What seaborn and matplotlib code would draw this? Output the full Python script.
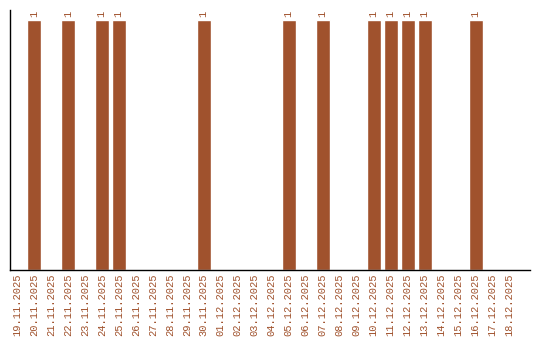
import matplotlib
matplotlib.use("Agg")
import matplotlib.pyplot as plt
import seaborn as sns
import pandas as pd

dates = ["19.11.2025", "20.11.2025", "21.11.2025", "22.11.2025", "23.11.2025",
         "24.11.2025", "25.11.2025", "26.11.2025", "27.11.2025", "28.11.2025",
         "29.11.2025", "30.11.2025", "01.12.2025", "02.12.2025", "03.12.2025",
         "04.12.2025", "05.12.2025", "06.12.2025", "07.12.2025", "08.12.2025",
         "09.12.2025", "10.12.2025", "11.12.2025", "12.12.2025", "13.12.2025",
         "14.12.2025", "15.12.2025", "16.12.2025", "17.12.2025", "18.12.2025"]
counts = [0, 1, 0, 1, 0, 1, 1, 0, 0, 0, 0, 1, 0, 0, 0,
          0, 1, 0, 1, 0, 0, 1, 1, 1, 1, 0, 0, 1, 0, 0]

color = "#A0522D"
sns.set_style("white")
plt.rcParams['font.family'] = ['Liberation Mono', 'DejaVu Sans Mono']

df = pd.DataFrame({"date": dates, "count": counts})
fig = plt.figure(figsize=(5.4, 3.4), dpi=100)
ax = fig.add_axes([10/540, 70/340, 520/540, 260/340])
sns.barplot(data=df, x="date", y="count", color=color, saturation=1, width=0.82, ax=ax)

labels = [str(c) if c else "" for c in counts]
ax.bar_label(ax.containers[0], labels=labels, rotation=90, fontsize=7.5,
             color=color, padding=2)

ax.set_xlim(-0.4, 30.2)
ax.set_ylim(0, 1.04)
ax.set_xlabel("")
ax.set_ylabel("")
ax.set_yticks([])
ax.tick_params(axis="x", length=0, pad=2.5, labelsize=7.5, labelcolor=color, rotation=90)
for s in ["top", "right"]:
    ax.spines[s].set_visible(False)
for s in ["left", "bottom"]:
    ax.spines[s].set_color("black")
    ax.spines[s].set_linewidth(1)

fig.savefig("out.png", dpi=100)
